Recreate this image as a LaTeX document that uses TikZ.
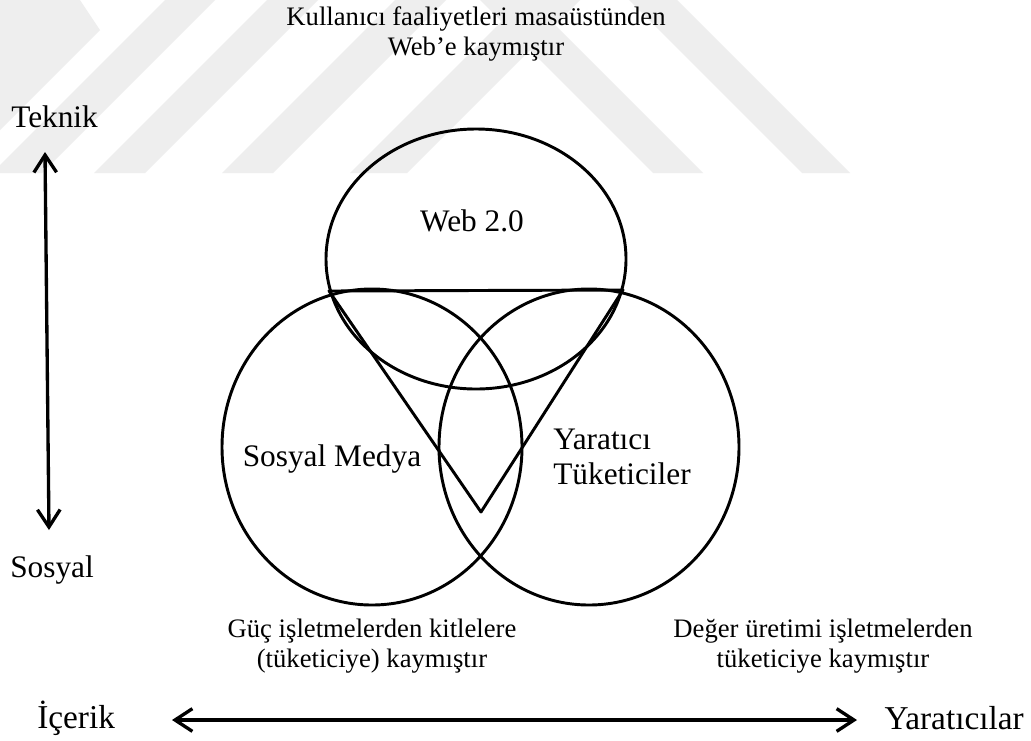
\documentclass[tikz,border=0pt]{standalone}
\usepackage{fontspec}
\setmainfont{Liberation Serif}
\usetikzlibrary{arrows.meta,shapes.geometric}
\definecolor{wmgrey}{RGB}{238,238,238}
\begin{document}
\begin{tikzpicture}[x=0.75pt,y=-0.75pt,
  wm/.style={fill=wmgrey,draw=none},
  setbox/.style={draw=black,line width=2.2pt,ellipse,minimum width=225pt,inner sep=0pt},
  caption/.style={font=\fontsize{20}{22.5}\selectfont,align=center,inner sep=0pt},
  lab/.style={font=\fontsize{23.5}{26.5}\selectfont,inner sep=0pt},
  biglab/.style={font=\fontsize{25}{28}\selectfont,inner sep=0pt},
  axis/.style={line width=2.5pt,{Straight Barb[length=13pt,width=17pt]}-{Straight Barb[length=13pt,width=17pt]}},
  tri/.style={line width=2.2pt,line join=round}]
\useasboundingbox (0,0) rectangle (1031,740);
\fill[white] (0,0) rectangle (1031,740);
% watermark
\begin{scope}
\clip (0,0) rectangle (1031,173);
\fill[wm] (0,0) -- (80,0) -- (100,30) -- (0,130) -- cycle;
\fill[wm] (165,0) -- (215,0) -- (42,173) -- (-8,173) -- cycle;
\fill[wm] (267,0) -- (318,0) -- (145,173) -- (94,173) -- cycle;
\fill[wm] (395,0) -- (446,0) -- (273,173) -- (222,173) -- cycle;
\fill[wm] (523,0) -- (580,0) -- (407,173) -- (350,173) -- cycle;
\fill[wm] (480,0) -- (530,0) -- (703,173) -- (653,173) -- cycle;
\fill[wm] (629,0) -- (677,0) -- (850,173) -- (802,173) -- cycle;
\end{scope}
% texts
\node[caption] (top) at (476,34) {Kullanıcı faaliyetleri masaüstünden\\Web’e kaymıştır};
\node[lab,anchor=west] (teknik) at (11,117) {Teknik};
\node[lab,anchor=west] (sosyal) at (10,570) {Sosyal};
\coordinate (vtop) at (45,152);
\coordinate (vbot) at (49,530);
\draw[axis] (vtop) -- (vbot);
% sets
\node[setbox,minimum height=195pt] (web) at (476,259) {};
\node[setbox,minimum height=237pt] (sm) at (372,447) {};
\node[setbox,minimum height=237pt] (yt) at (589,447) {};
\coordinate (t1) at (329,291);
\coordinate (t2) at (623,290);
\coordinate (t3) at (481,512);
\draw[tri] (t1) -- (t2) -- (t3) -- cycle;
\node[lab] (weblab) at (472,221) {Web 2.0};
\node[lab] (smlab) at (332,459) {Sosyal Medya};
\node[lab,align=left,anchor=west] (ytlab) at (553,457) {Yaratıcı\\Tüketiciler};
% bottom
\node[caption] (guc) at (372,646) {Güç işletmelerden kitlelere\\(tüketiciye) kaymıştır};
\node[caption] (deger) at (823,646) {Değer üretimi işletmelerden\\tüketiciye kaymıştır};
\node[biglab,anchor=west] (icerik) at (37,718) {İçerik};
\node[biglab,anchor=east] (yarat) at (1024,718) {Yaratıcılar};
\coordinate (hl) at (172,720);
\coordinate (hr) at (857,720);
\draw[axis] (hl) -- (hr);
\end{tikzpicture}
\end{document}
